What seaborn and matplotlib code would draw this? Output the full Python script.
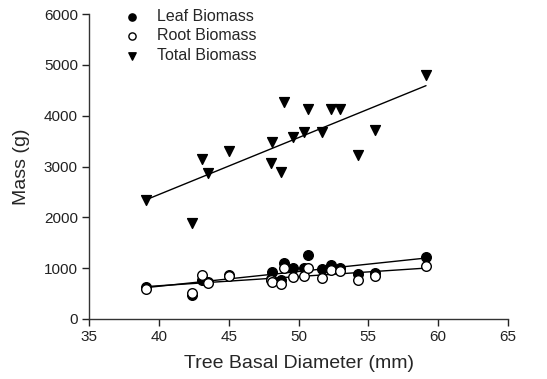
import matplotlib
matplotlib.use("Agg")
import matplotlib.pyplot as plt
import seaborn as sns
import pandas as pd
import numpy as np

# Data
diameter = [39.05, 42.37, 43.12, 43.51, 45.0, 48.0, 48.12, 48.74, 48.96, 49.6,
            50.41, 50.68, 51.67, 52.35, 52.99, 54.25, 55.5, 59.13]
leaf = [630, 470, 760, 720, 870, 790, 920, 765, 1105, 995,
        1000, 1260, 980, 1065, 1000, 880, 910, 1215]
root = [600, 515, 865, 708, 845, 773, 730, 690, 995, 825,
        845, 1005, 800, 955, 945, 760, 838, 1045]
total = [2340, 1890, 3145, 2870, 3305, 3075, 3475, 2890, 4270, 3575,
         3685, 4130, 3685, 4140, 4140, 3225, 3725, 4805]
series_names = ["Leaf Biomass", "Root Biomass", "Total Biomass"]
x_ticks = [35, 40, 45, 50, 55, 60, 65]
y_ticks = [0, 1000, 2000, 3000, 4000, 5000, 6000]

df = pd.DataFrame({
    "Diameter": diameter * 3,
    "Mass": leaf + root + total,
    "Series": [series_names[0]] * len(leaf) + [series_names[1]] * len(root)
              + [series_names[2]] * len(total),
})

sns.set_style("ticks")
plt.rcParams["font.family"] = ["Liberation Sans", "DejaVu Sans"]

fig = plt.figure(figsize=(5.47, 3.79), dpi=100)
ax = fig.add_axes([89 / 547, 1 - 319 / 379, (508 - 89) / 547, (319 - 14) / 379])

styles = {
    "Leaf Biomass": dict(marker="o", facecolor="black", edgecolor="black"),
    "Root Biomass": dict(marker="o", facecolor="white", edgecolor="black"),
    "Total Biomass": dict(marker="v", facecolor="black", edgecolor="black"),
}

# regression lines first (under markers)
for name in series_names:
    sub = df[df["Series"] == name]
    sns.regplot(data=sub, x="Diameter", y="Mass", ax=ax, scatter=False, ci=None,
                truncate=True, color="black", line_kws=dict(lw=1.0, zorder=2))

for name in series_names:
    sub = df[df["Series"] == name]
    st = styles[name]
    sns.scatterplot(data=sub, x="Diameter", y="Mass", ax=ax, marker=st["marker"],
                    color=st["facecolor"], edgecolor=st["edgecolor"],
                    linewidth=1.0, s=48 if st["marker"] == "o" else 50,
                    label=name, zorder=3)

ax.set_xlim(35, 65)
ax.set_ylim(0, 6000)
ax.set_xticks(x_ticks)
ax.set_yticks(y_ticks)
ax.tick_params(direction="out", length=5, width=1, labelsize=11, colors="#222222",
               pad=3)
for s in ["top", "right"]:
    ax.spines[s].set_visible(False)
for s in ["left", "bottom"]:
    ax.spines[s].set_linewidth(1)
    ax.spines[s].set_color("#333333")

ax.set_xlabel("Tree Basal Diameter (mm)", fontsize=14, labelpad=8)
ax.set_ylabel("Mass (g)", fontsize=14, labelpad=10)

leg = ax.legend(loc="upper left", bbox_to_anchor=(114 / 547, 1 - 1 / 379),
                bbox_transform=fig.transFigure, frameon=False, fontsize=11.5,
                handletextpad=1.0, labelspacing=0.28, borderpad=0,
                handlelength=1.2, markerscale=0.75)

fig.savefig("out.png", dpi=100)
